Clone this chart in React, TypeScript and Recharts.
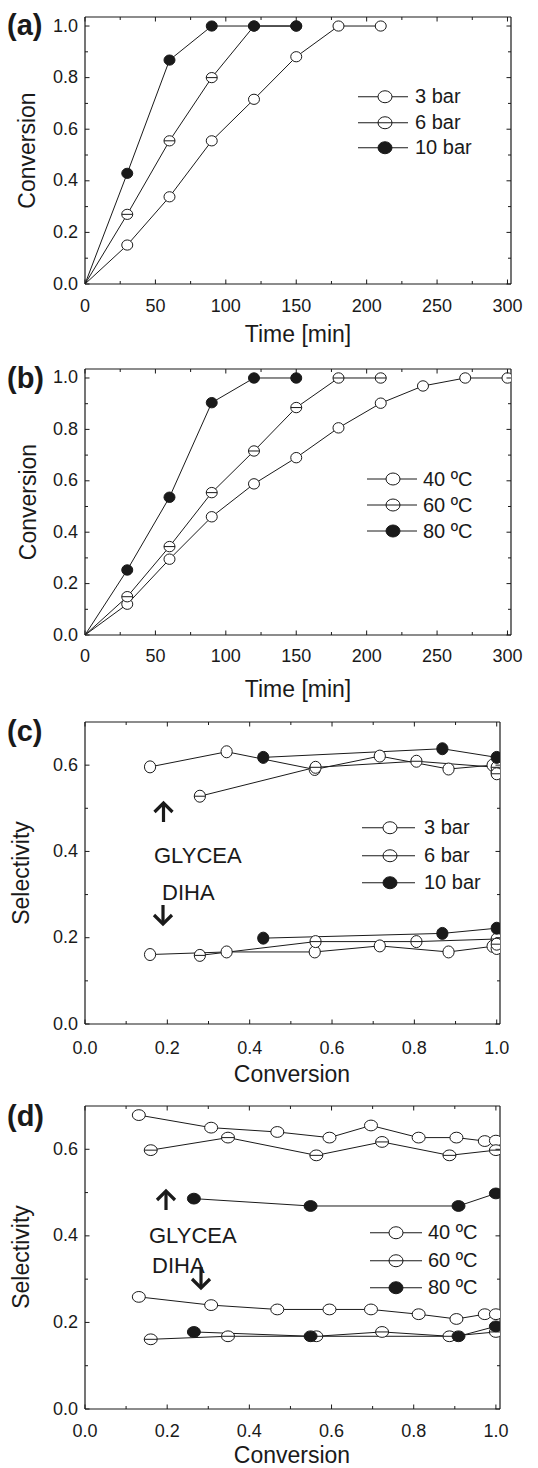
import React from 'react';
import { LineChart, Line, XAxis, YAxis, Legend } from 'recharts';

const W = 538;
const FONT = '"Liberation Sans", Arial, Helvetica, sans-serif';
const INK = '#1a1a1a';

// ---------- Panel (a): conversion vs time, pressure ----------
const timeA3 = [0, 30, 60, 90, 120, 150, 180, 210];
const convA3 = [0, 0.151, 0.338, 0.555, 0.716, 0.881, 1.0, 1.0];
const timeA6 = [0, 30, 60, 90, 120, 150];
const convA6 = [0, 0.27, 0.555, 0.8, 1.0, 1.0];
const timeA10 = [0, 30, 60, 90, 120, 150];
const convA10 = [0, 0.429, 0.868, 1.0, 1.0, 1.0];

// ---------- Panel (b): conversion vs time, temperature ----------
const timeB40 = [0, 30, 60, 90, 120, 150, 180, 210, 240, 270, 300];
const convB40 = [0, 0.12, 0.295, 0.46, 0.588, 0.69, 0.806, 0.902, 0.969, 1.0, 1.0];
const timeB60 = [0, 30, 60, 90, 120, 150, 180, 210];
const convB60 = [0, 0.149, 0.344, 0.554, 0.716, 0.885, 1.0, 1.0];
const timeB80 = [0, 30, 60, 90, 120, 150];
const convB80 = [0, 0.253, 0.536, 0.904, 1.0, 1.0];

// ---------- Panel (c): selectivity vs conversion, pressure ----------
const convC3 = [0.158, 0.344, 0.558, 0.716, 0.883, 0.99, 1.0];
const glyC3 = [0.596, 0.631, 0.59, 0.621, 0.591, 0.6, 0.585];
const dihC3 = [0.161, 0.167, 0.167, 0.181, 0.167, 0.18, 0.175];
const convC6 = [0.279, 0.56, 0.805, 1.0, 1.0];
const glyC6 = [0.528, 0.595, 0.609, 0.595, 0.58];
const dihC6 = [0.159, 0.191, 0.191, 0.197, 0.185];
const convC10 = [0.433, 0.868, 1.0];
const glyC10 = [0.618, 0.638, 0.618];
const dihC10 = [0.199, 0.21, 0.222];

// ---------- Panel (d): selectivity vs conversion, temperature ----------
const convD40 = [0.131, 0.307, 0.468, 0.595, 0.696, 0.812, 0.904, 0.973, 1.0];
const glyD40 = [0.679, 0.65, 0.64, 0.627, 0.655, 0.627, 0.627, 0.619, 0.62];
const dihD40 = [0.259, 0.24, 0.23, 0.23, 0.23, 0.219, 0.208, 0.219, 0.219];
const convD60 = [0.16, 0.348, 0.563, 0.723, 0.887, 1.0];
const glyD60 = [0.598, 0.627, 0.586, 0.617, 0.586, 0.598];
const dihD60 = [0.161, 0.168, 0.168, 0.178, 0.168, 0.178];
const convD80 = [0.265, 0.549, 0.909, 1.0];
const glyD80 = [0.486, 0.469, 0.469, 0.498];
const dihD80 = [0.178, 0.168, 0.168, 0.191];

// ---------- ticks & labels ----------
const timeMajor = [0, 50, 100, 150, 200, 250, 300];
const timeMinor = [25, 75, 125, 175, 225, 275];
const convMajor = [0, 0.2, 0.4, 0.6, 0.8, 1.0];
const convMinor = [0.1, 0.3, 0.5, 0.7, 0.9];
const selMajor = [0, 0.2, 0.4, 0.6];
const selMinor = [0.1, 0.3, 0.5];

const pressureLabels = ['3 bar', '6 bar', '10 bar'];
const tempLabels = ['40 ºC', '60 ºC', '80 ºC'];

type Kind = 'open' | 'half' | 'filled';
const markerKinds: Kind[] = ['open', 'half', 'filled'];

const zip = (xs: number[], ys: number[]) => xs.map((x, i) => ({ x, y: ys[i] }));
const sortNum = (a: number[]) => [...a].sort((p, q) => p - q);
const isMajor = (v: number, majors: number[]) => majors.some((m) => Math.abs(m - v) < 1e-9);

function Marker({ cx, cy, kind, rx, ry }: { cx: number; cy: number; kind: Kind; rx: number; ry: number }) {
  if (kind === 'filled') {
    return <ellipse cx={cx} cy={cy} rx={rx} ry={ry} fill={INK} stroke={INK} strokeWidth={1} />;
  }
  return (
    <g>
      <ellipse cx={cx} cy={cy} rx={rx} ry={ry} fill="#fff" stroke={INK} strokeWidth={1} />
      {kind === 'half' && <line x1={cx - rx} x2={cx + rx} y1={cy} y2={cy} stroke={INK} strokeWidth={1} />}
    </g>
  );
}

const makeDot = (kind: Kind, rx: number, ry: number, skipZero: boolean) => (props: any) => {
  const { cx, cy, payload, index } = props;
  if (cx == null || cy == null || (skipZero && payload && payload.x === 0)) return <g key={`d${index}`} />;
  return (
    <g key={`d${index}`}>
      <Marker cx={cx} cy={cy} kind={kind} rx={rx} ry={ry} />
    </g>
  );
};

interface Cfg {
  top: number;
  height: number;
  plotTop: number;
  plotBottom: number;
  plotLeft: number;
  plotRight: number;
  xDomain: [number, number];
  yDomain: [number, number];
  xMajors: number[];
  xMinors: number[];
  yMajors: number[];
  yMinors: number[];
  xFmt: (v: number) => string;
  xLabelDy: number;
  rx: number;
  ry: number;
  skipZero: boolean;
  legend: { labels: string[]; lineStart: number; lineEnd: number; markerX: number; textX: number; firstRow: number; rowH: number };
}

interface Series {
  key: string;
  data: { x: number; y: number }[];
  kind: Kind;
}

const axisLineStyle = { stroke: INK, strokeWidth: 1.2 };

function LegendBox({ cfg }: { cfg: Cfg }) {
  const L = cfg.legend;
  const svgW = L.textX - L.lineStart;
  return (
    <div style={{ fontFamily: FONT, fontSize: 20, color: INK }}>
      {L.labels.map((label, i) => (
        <div key={label} style={{ display: 'flex', alignItems: 'center', height: L.rowH }}>
          <svg width={svgW} height={L.rowH} style={{ display: 'block', overflow: 'visible' }}>
            <line x1={0} x2={L.lineEnd - L.lineStart} y1={L.rowH / 2} y2={L.rowH / 2} stroke={INK} strokeWidth={1} />
            <Marker cx={L.markerX - L.lineStart} cy={L.rowH / 2} kind={markerKinds[i]} rx={7} ry={6} />
          </svg>
          <span style={{ lineHeight: `${L.rowH}px`, whiteSpace: 'nowrap' }}>{label}</span>
        </div>
      ))}
    </div>
  );
}

function Panel({ cfg, series }: { cfg: Cfg; series: Series[] }) {
  const xTicks = sortNum([...cfg.xMajors, ...cfg.xMinors]);
  const yTicks = sortNum([...cfg.yMajors, ...cfg.yMinors]);
  const yFmt = (v: number) => v.toFixed(1);
  const L = cfg.legend;
  return (
    <div style={{ position: 'absolute', left: 0, top: cfg.top, width: W, height: cfg.height }}>
      <LineChart
        width={W}
        height={cfg.height}
        margin={{ top: cfg.plotTop - cfg.top - 1, right: W - cfg.plotRight - 1, bottom: 0, left: 0 }}
      >
        <XAxis
          xAxisId="b"
          type="number"
          dataKey="x"
          domain={cfg.xDomain}
          allowDataOverflow
          ticks={xTicks}
          interval={0}
          height={cfg.top + cfg.height - cfg.plotBottom}
          tickLine={false}
          tickSize={0}
          tickMargin={0}
          axisLine={axisLineStyle}
          tick={(p: any) => {
            const major = isMajor(p.payload.value, cfg.xMajors);
            return (
              <g>
                <line x1={p.x} x2={p.x} y1={p.y} y2={p.y - (major ? 4.5 : 3)} stroke={INK} strokeWidth={1} />
                {major && (
                  <text x={p.x} y={p.y + cfg.xLabelDy} textAnchor="middle" fontSize={18} fontFamily={FONT} fill={INK}>
                    {cfg.xFmt(p.payload.value)}
                  </text>
                )}
              </g>
            );
          }}
        />
        <XAxis
          xAxisId="t"
          orientation="top"
          type="number"
          dataKey="x"
          domain={cfg.xDomain}
          allowDataOverflow
          ticks={xTicks}
          interval={0}
          height={1}
          tickLine={false}
          tickSize={0}
          tickMargin={0}
          axisLine={axisLineStyle}
          tick={(p: any) => {
            const major = isMajor(p.payload.value, cfg.xMajors);
            return <line x1={p.x} x2={p.x} y1={p.y} y2={p.y + (major ? 4.5 : 3)} stroke={INK} strokeWidth={1} />;
          }}
        />
        <YAxis
          yAxisId="l"
          type="number"
          dataKey="y"
          domain={cfg.yDomain}
          allowDataOverflow
          ticks={yTicks}
          interval={0}
          width={cfg.plotLeft}
          tickLine={false}
          tickSize={0}
          tickMargin={0}
          axisLine={axisLineStyle}
          tick={(p: any) => {
            const major = isMajor(p.payload.value, cfg.yMajors);
            return (
              <g>
                <line x1={p.x} x2={p.x + (major ? 4.5 : 3)} y1={p.y} y2={p.y} stroke={INK} strokeWidth={1} />
                {major && (
                  <text x={p.x - 7} y={p.y + 5.5} textAnchor="end" fontSize={18} fontFamily={FONT} fill={INK}>
                    {yFmt(p.payload.value)}
                  </text>
                )}
              </g>
            );
          }}
        />
        <YAxis
          yAxisId="r"
          orientation="right"
          type="number"
          dataKey="y"
          domain={cfg.yDomain}
          allowDataOverflow
          ticks={yTicks}
          interval={0}
          width={1}
          tickLine={false}
          tickSize={0}
          tickMargin={0}
          axisLine={axisLineStyle}
          tick={(p: any) => {
            const major = isMajor(p.payload.value, cfg.yMajors);
            return <line x1={p.x} x2={p.x - (major ? 4.5 : 3)} y1={p.y} y2={p.y} stroke={INK} strokeWidth={1} />;
          }}
        />
        {/* invisible companion so the mirrored frame axes (top/right) get a domain */}
        <Line
          xAxisId="t"
          yAxisId="r"
          data={series[0].data}
          dataKey="y"
          stroke="none"
          strokeOpacity={0}
          dot={false}
          activeDot={false}
          legendType="none"
          isAnimationActive={false}
        />
        {series.map((s) => (
          <Line
            key={s.key}
            xAxisId="b"
            yAxisId="l"
            data={s.data}
            dataKey="y"
            type="linear"
            stroke={INK}
            strokeWidth={1}
            dot={makeDot(s.kind, cfg.rx, cfg.ry, cfg.skipZero)}
            activeDot={false}
            isAnimationActive={false}
          />
        ))}
        <Legend
          layout="vertical"
          align="center"
          verticalAlign="middle"
          content={() => <LegendBox cfg={cfg} />}
          wrapperStyle={{ left: L.lineStart, top: L.firstRow - L.rowH / 2 - cfg.top, width: 170, height: L.rowH * 3 }}
        />
      </LineChart>
    </div>
  );
}

const timeFmt = (v: number) => String(v);
const convFmt = (v: number) => v.toFixed(1);

const cfgA: Cfg = {
  top: 0, height: 330, plotTop: 17, plotBottom: 284, plotLeft: 85, plotRight: 511,
  xDomain: [0, 302.5], yDomain: [0, 1.035],
  xMajors: timeMajor, xMinors: timeMinor, yMajors: convMajor, yMinors: convMinor,
  xFmt: timeFmt, xLabelDy: 27.5, rx: 5.5, ry: 5.1, skipZero: true,
  legend: { labels: pressureLabels, lineStart: 358, lineEnd: 408, markerX: 385, textX: 415, firstRow: 97, rowH: 25.5 },
};
const cfgB: Cfg = {
  top: 340, height: 330, plotTop: 369, plotBottom: 635, plotLeft: 85, plotRight: 511,
  xDomain: [0, 302.5], yDomain: [0, 1.035],
  xMajors: timeMajor, xMinors: timeMinor, yMajors: convMajor, yMinors: convMinor,
  xFmt: timeFmt, xLabelDy: 27, rx: 5.5, ry: 5.2, skipZero: true,
  legend: { labels: tempLabels, lineStart: 367, lineEnd: 417, markerX: 393, textX: 423, firstRow: 479, rowH: 26 },
};
const cfgC: Cfg = {
  top: 690, height: 380, plotTop: 722, plotBottom: 1024, plotLeft: 85, plotRight: 500,
  xDomain: [0, 1.008], yDomain: [0, 0.7],
  xMajors: convMajor, xMinors: convMinor, yMajors: selMajor, yMinors: selMinor,
  xFmt: convFmt, xLabelDy: 30, rx: 5.6, ry: 6, skipZero: false,
  legend: { labels: pressureLabels, lineStart: 362, lineEnd: 415, markerX: 390, textX: 424, firstRow: 828, rowH: 27.5 },
};
const cfgD: Cfg = {
  top: 1080, height: 388, plotTop: 1106, plotBottom: 1409, plotLeft: 85, plotRight: 500,
  xDomain: [0, 1.01], yDomain: [0, 0.7],
  xMajors: convMajor, xMinors: convMinor, yMajors: selMajor, yMinors: selMinor,
  xFmt: convFmt, xLabelDy: 27.5, rx: 6.5, ry: 5.4, skipZero: false,
  legend: { labels: tempLabels, lineStart: 370, lineEnd: 422, markerX: 396, textX: 428, firstRow: 1233, rowH: 27.5 },
};

const seriesA: Series[] = [
  { key: '3 bar', data: zip(timeA3, convA3), kind: 'open' },
  { key: '6 bar', data: zip(timeA6, convA6), kind: 'half' },
  { key: '10 bar', data: zip(timeA10, convA10), kind: 'filled' },
];
const seriesB: Series[] = [
  { key: '40', data: zip(timeB40, convB40), kind: 'open' },
  { key: '60', data: zip(timeB60, convB60), kind: 'half' },
  { key: '80', data: zip(timeB80, convB80), kind: 'filled' },
];
const seriesC: Series[] = [
  { key: 'g3', data: zip(convC3, glyC3), kind: 'open' },
  { key: 'd3', data: zip(convC3, dihC3), kind: 'open' },
  { key: 'g6', data: zip(convC6, glyC6), kind: 'half' },
  { key: 'd6', data: zip(convC6, dihC6), kind: 'half' },
  { key: 'g10', data: zip(convC10, glyC10), kind: 'filled' },
  { key: 'd10', data: zip(convC10, dihC10), kind: 'filled' },
];
const seriesD: Series[] = [
  { key: 'g40', data: zip(convD40, glyD40), kind: 'open' },
  { key: 'd40', data: zip(convD40, dihD40), kind: 'open' },
  { key: 'g60', data: zip(convD60, glyD60), kind: 'half' },
  { key: 'd60', data: zip(convD60, dihD60), kind: 'half' },
  { key: 'g80', data: zip(convD80, glyD80), kind: 'filled' },
  { key: 'd80', data: zip(convD80, dihD80), kind: 'filled' },
];

function Arrow({ x, y1, y2, up }: { x: number; y1: number; y2: number; up: boolean }) {
  const tip = up ? y1 : y2;
  const d = up ? 10 : -10;
  return (
    <g>
      <line x1={x} x2={x} y1={y1 + (up ? 2 : 0)} y2={y2 - (up ? 0 : 2)} stroke={INK} strokeWidth={3.2} />
      <polyline
        points={`${x - 9},${tip + d} ${x},${tip + (up ? 1 : -1)} ${x + 9},${tip + d}`}
        stroke={INK}
        strokeWidth={3.2}
        fill="none"
      />
    </g>
  );
}

function Overlay() {
  const t = { fontFamily: FONT, fill: INK };
  return (
    <svg width={W} height={1468} style={{ position: 'absolute', left: 0, top: 0, pointerEvents: 'none' }}>
      {/* panel letters */}
      <text x={7} y={35} fontSize={29} fontWeight={700} {...t}>(a)</text>
      <text x={7} y={388} fontSize={29} fontWeight={700} {...t}>(b)</text>
      <text x={7} y={741} fontSize={29} fontWeight={700} {...t}>(c)</text>
      <text x={7} y={1126} fontSize={29} fontWeight={700} {...t}>(d)</text>
      {/* axis titles */}
      <text x={298} y={342} fontSize={23} textAnchor="middle" {...t}>Time [min]</text>
      <text x={298} y={697} fontSize={23} textAnchor="middle" {...t}>Time [min]</text>
      <text x={292} y={1082} fontSize={23} textAnchor="middle" {...t}>Conversion</text>
      <text x={292} y={1463} fontSize={23} textAnchor="middle" {...t}>Conversion</text>
      <text transform="translate(35,150.5) rotate(-90)" fontSize={23} textAnchor="middle" {...t}>Conversion</text>
      <text transform="translate(36,502) rotate(-90)" fontSize={23} textAnchor="middle" {...t}>Conversion</text>
      <text transform="translate(29,873) rotate(-90)" fontSize={23} textAnchor="middle" {...t}>Selectivity</text>
      <text transform="translate(29,1257) rotate(-90)" fontSize={23} textAnchor="middle" {...t}>Selectivity</text>
      {/* annotations (c) */}
      <Arrow x={163.5} y1={802} y2={822} up />
      <text x={154} y={863} fontSize={22} {...t}>GLYCEA</text>
      <text x={162} y={900} fontSize={22} {...t}>DIHA</text>
      <Arrow x={163} y1={905} y2={925} up={false} />
      {/* annotations (d) */}
      <Arrow x={166} y1={1190} y2={1210} up />
      <text x={149} y={1243} fontSize={22} {...t}>GLYCEA</text>
      <text x={152} y={1273} fontSize={22} {...t}>DIHA</text>
      <Arrow x={201} y1={1267} y2={1289} up={false} />
    </svg>
  );
}

export default function App() {
  return (
    <div style={{ position: 'absolute', left: 0, top: 0, width: W, height: 1468, background: '#fff', overflow: 'hidden' }}>
      <Panel cfg={cfgA} series={seriesA} />
      <Panel cfg={cfgB} series={seriesB} />
      <Panel cfg={cfgC} series={seriesC} />
      <Panel cfg={cfgD} series={seriesD} />
      <Overlay />
    </div>
  );
}
